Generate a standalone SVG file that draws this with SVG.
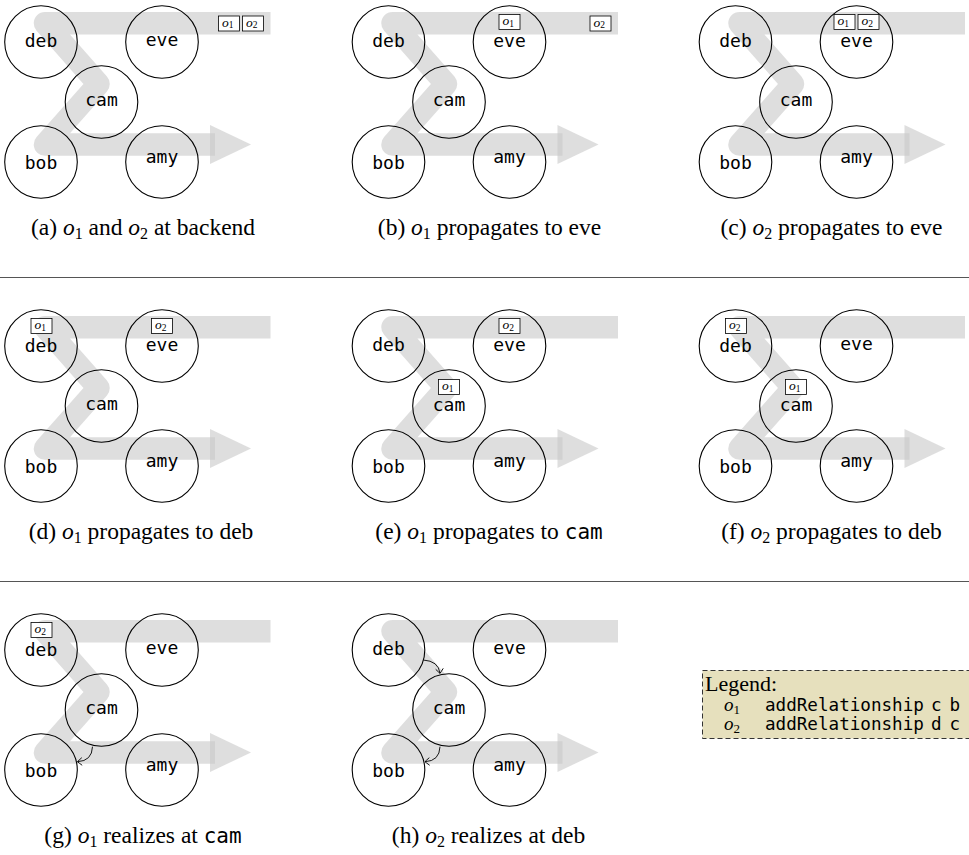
<svg xmlns="http://www.w3.org/2000/svg" xmlns:xlink="http://www.w3.org/1999/xlink" width="969" height="855" viewBox="0 0 969 855">
<style>
.band{fill:none;stroke:#c8c8c8;stroke-opacity:0.6;stroke-width:22.5;stroke-linejoin:round}
.head{fill:#c8c8c8;fill-opacity:0.6}
.node circle{fill:none;stroke:#000;stroke-width:1.1}
.lbl{font-family:"DejaVu Sans Mono",monospace;font-size:18px;text-anchor:middle;fill:#000}
.op rect{fill:#fff;stroke:#000;stroke-width:0.8}
.op text{font-family:"Liberation Serif",serif;font-style:italic;font-size:13.5px}
.sub{font-style:normal;font-size:9.5px}
.cap{font-family:"Liberation Serif",serif;font-size:23.5px;text-anchor:middle}
.it{font-style:italic}
.csub{font-size:16px}
.mono{font-family:"DejaVu Sans Mono",monospace;font-size:21px}
.sep{stroke:#555;stroke-width:1.2}
.conn{fill:none;stroke:#000;stroke-width:0.9;marker-end:url(#to)}
.leg{font-family:"Liberation Serif",serif;font-size:22px}
.lego{font-family:"Liberation Serif",serif;font-size:19px}
.legm{font-family:"DejaVu Sans Mono",monospace;font-size:17.6px}
</style>
<defs>
<marker id="to" markerUnits="userSpaceOnUse" markerWidth="10" markerHeight="10" viewBox="-6 -5 8 10" refX="0" refY="0" orient="auto">
<path d="M -4.5 -3.8 Q -1.2 -1.2 0 0 Q -1.2 1.2 -4.5 3.8" fill="none" stroke="#000" stroke-width="0.9"/>
</marker>
<g id="flow">
<path class="band" d="M 270.5 23.3 L 45 23.3 L 98.5 84 L 45 144.5 L 215 144.5"/>
<path class="head" d="M 210 125 L 251 144.5 L 210 164 Z"/>
</g>
</defs>

<!-- Panel a -->
<g id="panel-a">
<use xlink:href="#flow" href="#flow"/>
<g id="a-deb" class="node"><circle cx="41" cy="42" r="36.3"/><text class="lbl" x="41" y="47">deb</text></g>
<g id="a-eve" class="node"><circle cx="162" cy="42" r="36.3"/><text class="lbl" x="162" y="45.5">eve</text></g>
<g id="a-cam" class="node"><circle cx="101.5" cy="102" r="36.3"/><text class="lbl" x="101.5" y="106">cam</text></g>
<g id="a-bob" class="node"><circle cx="41" cy="162" r="36.3"/><text class="lbl" x="41" y="169">bob</text></g>
<g id="a-amy" class="node"><circle cx="162" cy="162" r="36.3"/><text class="lbl" x="162" y="163">amy</text></g>
<g id="a-o1" class="op"><rect x="218.5" y="16" width="21" height="15"/><text x="222" y="26.5">o<tspan class="sub" dy="1.5">1</tspan></text></g>
<g id="a-o2" class="op"><rect x="242.5" y="16" width="21" height="15"/><text x="246" y="26.5">o<tspan class="sub" dy="1.5">2</tspan></text></g>
<text class="cap" x="143" y="235">(a) <tspan class="it">o</tspan><tspan class="csub" dy="4">1</tspan><tspan dy="-4"> and </tspan><tspan class="it">o</tspan><tspan class="csub" dy="4">2</tspan><tspan dy="-4"> at backend</tspan></text>
</g>

<!-- Panel b -->
<g id="panel-b" transform="translate(347.5,0)">
<use xlink:href="#flow" href="#flow"/>
<g id="b-deb" class="node"><circle cx="41" cy="42" r="36.3"/><text class="lbl" x="41" y="47">deb</text></g>
<g id="b-eve" class="node"><circle cx="162" cy="42" r="36.3"/><text class="lbl" x="162" y="47">eve</text></g>
<g id="b-cam" class="node"><circle cx="101.5" cy="102" r="36.3"/><text class="lbl" x="101.5" y="106">cam</text></g>
<g id="b-bob" class="node"><circle cx="41" cy="162" r="36.3"/><text class="lbl" x="41" y="169">bob</text></g>
<g id="b-amy" class="node"><circle cx="162" cy="162" r="36.3"/><text class="lbl" x="162" y="163">amy</text></g>
<g id="b-o1" class="op"><rect x="151.5" y="14.5" width="21" height="15"/><text x="155" y="25">o<tspan class="sub" dy="1.5">1</tspan></text></g>
<g id="b-o2" class="op"><rect x="242.5" y="16" width="21" height="15"/><text x="246" y="26.5">o<tspan class="sub" dy="1.5">2</tspan></text></g>
<text class="cap" x="142" y="235">(b) <tspan class="it">o</tspan><tspan class="csub" dy="4">1</tspan><tspan dy="-4"> propagates to eve</tspan></text>
</g>

<!-- Panel c -->
<g id="panel-c" transform="translate(694.5,0)">
<use xlink:href="#flow" href="#flow"/>
<g id="c-deb" class="node"><circle cx="41" cy="42" r="36.3"/><text class="lbl" x="41" y="47">deb</text></g>
<g id="c-eve" class="node"><circle cx="162" cy="42" r="36.3"/><text class="lbl" x="162" y="47">eve</text></g>
<g id="c-cam" class="node"><circle cx="101.5" cy="102" r="36.3"/><text class="lbl" x="101.5" y="106">cam</text></g>
<g id="c-bob" class="node"><circle cx="41" cy="162" r="36.3"/><text class="lbl" x="41" y="169">bob</text></g>
<g id="c-amy" class="node"><circle cx="162" cy="162" r="36.3"/><text class="lbl" x="162" y="163">amy</text></g>
<g id="c-o1" class="op"><rect x="139.5" y="14.5" width="21" height="15"/><text x="143" y="25">o<tspan class="sub" dy="1.5">1</tspan></text></g>
<g id="c-o2" class="op"><rect x="163.5" y="14.5" width="21" height="15"/><text x="167" y="25">o<tspan class="sub" dy="1.5">2</tspan></text></g>
<text class="cap" x="137" y="235">(c) <tspan class="it">o</tspan><tspan class="csub" dy="4">2</tspan><tspan dy="-4"> propagates to eve</tspan></text>
</g>

<line class="sep" x1="0" y1="277.5" x2="969" y2="277.5"/>

<!-- Panel d -->
<g id="panel-d" transform="translate(0,304)">
<use xlink:href="#flow" href="#flow"/>
<g id="d-deb" class="node"><circle cx="41" cy="42" r="36.3"/><text class="lbl" x="41" y="48">deb</text></g>
<g id="d-eve" class="node"><circle cx="162" cy="42" r="36.3"/><text class="lbl" x="162" y="47">eve</text></g>
<g id="d-cam" class="node"><circle cx="101.5" cy="102" r="36.3"/><text class="lbl" x="101.5" y="106">cam</text></g>
<g id="d-bob" class="node"><circle cx="41" cy="162" r="36.3"/><text class="lbl" x="41" y="169">bob</text></g>
<g id="d-amy" class="node"><circle cx="162" cy="162" r="36.3"/><text class="lbl" x="162" y="163">amy</text></g>
<g id="d-o1" class="op"><rect x="31" y="14.5" width="21" height="15"/><text x="34.5" y="25">o<tspan class="sub" dy="1.5">1</tspan></text></g>
<g id="d-o2" class="op"><rect x="151.5" y="14.5" width="21" height="15"/><text x="155" y="25">o<tspan class="sub" dy="1.5">2</tspan></text></g>
<text class="cap" x="141" y="235">(d) <tspan class="it">o</tspan><tspan class="csub" dy="4">1</tspan><tspan dy="-4"> propagates to deb</tspan></text>
</g>

<!-- Panel e -->
<g id="panel-e" transform="translate(347.5,304)">
<use xlink:href="#flow" href="#flow"/>
<g id="e-deb" class="node"><circle cx="41" cy="42" r="36.3"/><text class="lbl" x="41" y="47">deb</text></g>
<g id="e-eve" class="node"><circle cx="162" cy="42" r="36.3"/><text class="lbl" x="162" y="47">eve</text></g>
<g id="e-cam" class="node"><circle cx="101.5" cy="102" r="36.3"/><text class="lbl" x="101.5" y="107">cam</text></g>
<g id="e-bob" class="node"><circle cx="41" cy="162" r="36.3"/><text class="lbl" x="41" y="169">bob</text></g>
<g id="e-amy" class="node"><circle cx="162" cy="162" r="36.3"/><text class="lbl" x="162" y="163">amy</text></g>
<g id="e-o1" class="op"><rect x="91" y="75.5" width="21" height="15"/><text x="94.5" y="86">o<tspan class="sub" dy="1.5">1</tspan></text></g>
<g id="e-o2" class="op"><rect x="151.5" y="14.5" width="21" height="15"/><text x="155" y="25">o<tspan class="sub" dy="1.5">2</tspan></text></g>
<text class="cap" x="141.5" y="235">(e) <tspan class="it">o</tspan><tspan class="csub" dy="4">1</tspan><tspan dy="-4"> propagates to </tspan><tspan class="mono">cam</tspan></text>
</g>

<!-- Panel f -->
<g id="panel-f" transform="translate(694.5,304)">
<use xlink:href="#flow" href="#flow"/>
<g id="f-deb" class="node"><circle cx="41" cy="42" r="36.3"/><text class="lbl" x="41" y="48">deb</text></g>
<g id="f-eve" class="node"><circle cx="162" cy="42" r="36.3"/><text class="lbl" x="162" y="45.5">eve</text></g>
<g id="f-cam" class="node"><circle cx="101.5" cy="102" r="36.3"/><text class="lbl" x="101.5" y="107">cam</text></g>
<g id="f-bob" class="node"><circle cx="41" cy="162" r="36.3"/><text class="lbl" x="41" y="169">bob</text></g>
<g id="f-amy" class="node"><circle cx="162" cy="162" r="36.3"/><text class="lbl" x="162" y="163">amy</text></g>
<g id="f-o2" class="op"><rect x="31" y="14.5" width="21" height="15"/><text x="34.5" y="25">o<tspan class="sub" dy="1.5">2</tspan></text></g>
<g id="f-o1" class="op"><rect x="91" y="75.5" width="21" height="15"/><text x="94.5" y="86">o<tspan class="sub" dy="1.5">1</tspan></text></g>
<text class="cap" x="137" y="235">(f) <tspan class="it">o</tspan><tspan class="csub" dy="4">2</tspan><tspan dy="-4"> propagates to deb</tspan></text>
</g>

<line class="sep" x1="0" y1="581.5" x2="969" y2="581.5"/>

<!-- Panel g -->
<g id="panel-g" transform="translate(0,608)">
<use xlink:href="#flow" href="#flow"/>
<g id="g-deb" class="node"><circle cx="41" cy="42" r="36.3"/><text class="lbl" x="41" y="48">deb</text></g>
<g id="g-eve" class="node"><circle cx="162" cy="42" r="36.3"/><text class="lbl" x="162" y="45.5">eve</text></g>
<g id="g-cam" class="node"><circle cx="101.5" cy="102" r="36.3"/><text class="lbl" x="101.5" y="106">cam</text></g>
<g id="g-bob" class="node"><circle cx="41" cy="162" r="36.3"/><text class="lbl" x="41" y="169">bob</text></g>
<g id="g-amy" class="node"><circle cx="162" cy="162" r="36.3"/><text class="lbl" x="162" y="163">amy</text></g>
<g id="g-o2" class="op"><rect x="31" y="14.5" width="21" height="15"/><text x="34.5" y="25">o<tspan class="sub" dy="1.5">2</tspan></text></g>
<text class="cap" x="143" y="235">(g) <tspan class="it">o</tspan><tspan class="csub" dy="4">1</tspan><tspan dy="-4"> realizes at </tspan><tspan class="mono">cam</tspan></text>
</g>

<!-- Panel h -->
<g id="panel-h" transform="translate(347.5,608)">
<use xlink:href="#flow" href="#flow"/>
<g id="h-deb" class="node"><circle cx="41" cy="42" r="36.3"/><text class="lbl" x="41" y="47">deb</text></g>
<g id="h-eve" class="node"><circle cx="162" cy="42" r="36.3"/><text class="lbl" x="162" y="45.5">eve</text></g>
<g id="h-cam" class="node"><circle cx="101.5" cy="102" r="36.3"/><text class="lbl" x="101.5" y="106">cam</text></g>
<g id="h-bob" class="node"><circle cx="41" cy="162" r="36.3"/><text class="lbl" x="41" y="169">bob</text></g>
<g id="h-amy" class="node"><circle cx="162" cy="162" r="36.3"/><text class="lbl" x="162" y="163">amy</text></g>
<text class="cap" x="141" y="235">(h) <tspan class="it">o</tspan><tspan class="csub" dy="4">2</tspan><tspan dy="-4"> realizes at deb</tspan></text>
</g>

<!-- Connectors -->
<g id="connectors">
<path class="conn" d="M 92.5 746.7 Q 92 761 77.5 761.7"/>
<path class="conn" d="M 423.3 660 Q 438.5 661 440 673.3"/>
<path class="conn" d="M 440 746.7 Q 439.5 761 425 761.7"/>
</g>

<!-- Legend -->
<g id="legend">
<rect x="702.5" y="670.5" width="300" height="68" fill="#e6e0bd" stroke="#333" stroke-width="1" stroke-dasharray="5 3"/>
<text class="leg" x="705" y="690.5">Legend:</text>
<text class="lego" x="724" y="711"><tspan class="it">o</tspan><tspan font-size="13" dy="3">1</tspan></text>
<text class="legm" x="765" y="711">addRelationship<tspan x="931">c</tspan><tspan x="949.5">b</tspan></text>
<text class="lego" x="724" y="730"><tspan class="it">o</tspan><tspan font-size="13" dy="3">2</tspan></text>
<text class="legm" x="765" y="730">addRelationship<tspan x="931">d</tspan><tspan x="949.5">c</tspan></text>
</g>
</svg>
